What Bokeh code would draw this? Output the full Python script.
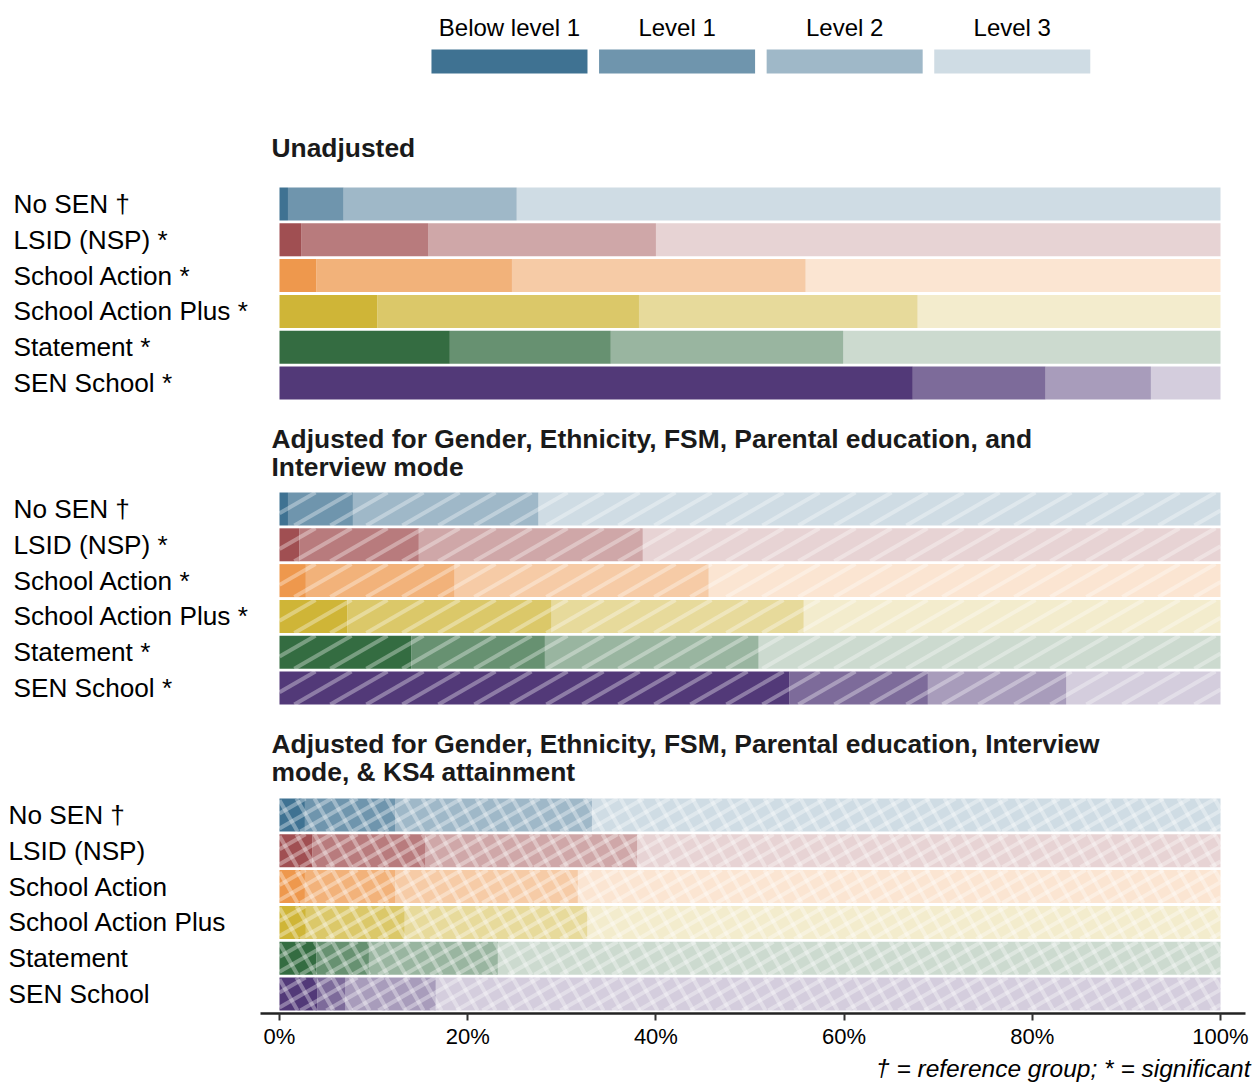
import numpy as np
from bokeh.plotting import figure
from bokeh.models import Range1d, FixedTicker, PrintfTickFormatter, ColumnDataSource, Title
from bokeh.core.properties import value
from bokeh.embed import file_html
from bokeh.resources import INLINE

# ---- data -------------------------------------------------------------
levels = ["Below level 1", "Level 1", "Level 2", "Level 3"]
groups = ["No SEN", "LSID (NSP)", "School Action", "School Action Plus",
          "Statement", "SEN School"]
group_colors = ["#3f7292", "#a04f52", "#ee984d", "#cfb537", "#346c41", "#523978"]
level_alphas = [1.0, 0.75, 0.5, 0.25]

# share of each group at each level (%), unadjusted
unadj_below = [0.9, 2.3, 3.9, 10.4, 18.1, 67.3]
unadj_l1 = [5.9, 13.5, 20.8, 27.8, 17.1, 14.1]
unadj_l2 = [18.4, 24.2, 31.2, 29.6, 24.7, 11.2]
unadj_l3 = [74.8, 60.0, 44.1, 32.2, 40.1, 7.4]
unadj_marks = ["†", "*", "*", "*", "*", "*"]

# adjusted for gender, ethnicity, FSM, parental education, interview mode
adj_below = [0.9, 2.1, 2.8, 7.2, 14.0, 54.2]
adj_l1 = [6.9, 12.7, 15.8, 21.7, 14.2, 14.7]
adj_l2 = [19.7, 23.8, 27.0, 26.8, 22.7, 14.7]
adj_l3 = [72.5, 61.4, 54.4, 44.3, 49.1, 16.4]
adj_marks = ["†", "*", "*", "*", "*", "*"]

# additionally adjusted for KS4 attainment
ks4_below = [2.7, 3.5, 2.7, 2.8, 3.9, 4.0]
ks4_l1 = [9.6, 12.0, 9.6, 10.5, 5.6, 3.0]
ks4_l2 = [20.9, 22.5, 19.4, 19.4, 13.7, 9.6]
ks4_l3 = [66.8, 62.0, 68.3, 67.3, 76.8, 83.4]
ks4_marks = ["†", "", "", "", "", ""]

panel_titles = [
    ["Unadjusted"],
    ["Adjusted for Gender, Ethnicity, FSM, Parental education, and",
     "Interview mode"],
    ["Adjusted for Gender, Ethnicity, FSM, Parental education, Interview",
     "mode, & KS4 attainment"],
]
x_ticks = [0, 20, 40, 60, 80, 100]
footnote = "† = reference group; * = significant"

# ---- layout (y runs downward in pixel-like units) ---------------------
PX = 9.41                      # pixels per percentage point
X0 = -279 / PX                 # left edge of the frame
X1 = (1256 - 279) / PX         # right edge of the frame
FRAME_H = 1013
ROW_PITCH = 35.8
BAR_H = 33
FONT = "Liberation Sans"

# hatch families: (slope dy/dx in screen pixels, horizontal spacing in pixels)
SHALLOW_UP = (-np.tan(np.radians(30)), 36)
SHALLOW_UP_FINE = (-np.tan(np.radians(30)), 26)
STEEP_DOWN = (np.tan(np.radians(60)), 18)

panels = [
    dict(shares=[unadj_below, unadj_l1, unadj_l2, unadj_l3], marks=unadj_marks,
         first_row=203.5, title_y=[147], label_x=(13 - 279) / PX, hatch=[]),
    dict(shares=[adj_below, adj_l1, adj_l2, adj_l3], marks=adj_marks,
         first_row=508.5, title_y=[438, 466], label_x=(13 - 279) / PX,
         hatch=[SHALLOW_UP]),
    dict(shares=[ks4_below, ks4_l1, ks4_l2, ks4_l3], marks=ks4_marks,
         first_row=814.5, title_y=[743, 771], label_x=(8 - 279) / PX,
         hatch=[SHALLOW_UP_FINE, STEEP_DOWN]),
]


def hatch_lines(row_y, row_left, row_right, slope, spacing):
    """Parallel hatch strokes clipped to one bar row (x in %, y in pixels)."""
    L, R = 279 + row_left * PX, 279 + row_right * PX
    run = BAR_H / abs(slope)
    y_start = row_y + BAR_H / 2 if slope < 0 else row_y - BAR_H / 2
    x0s, y0s, x1s, y1s = [], [], [], []
    xa = L - run
    while xa < R:
        t0, t1 = max(0.0, L - xa), min(run, R - xa)
        if t1 > t0:
            x0s.append((xa + t0 - 279) / PX)
            x1s.append((xa + t1 - 279) / PX)
            y0s.append(y_start + slope * t0)
            y1s.append(y_start + slope * t1)
        xa += spacing
    return x0s, y0s, x1s, y1s


p = figure(frame_width=1256, frame_height=FRAME_H,
           x_range=Range1d(X0, X1), y_range=Range1d(FRAME_H, 0),
           output_backend="svg", toolbar_location=None,
           y_axis_location=None, min_border=0,
           background_fill_color="white", border_fill_color="white")
p.outline_line_color = None
p.xgrid.visible = False
p.ygrid.visible = False

for k, panel in enumerate(panels):
    shares = np.array(panel["shares"], dtype=float)     # level x group
    cum = np.cumsum(shares, axis=0)
    rows_y = panel["first_row"] + ROW_PITCH * np.arange(len(groups))
    src = dict(y=[], left=[], right=[], color=[], alpha=[])
    for g in range(len(groups)):
        for lv in range(len(levels)):
            src["y"].append(rows_y[g])
            src["left"].append(cum[lv - 1, g] if lv > 0 else 0.0)
            src["right"].append(cum[lv, g])
            src["color"].append(group_colors[g])
            src["alpha"].append(level_alphas[lv])
    p.hbar(y="y", left="left", right="right", height=BAR_H,
           fill_color="color", fill_alpha="alpha", line_color=None,
           source=ColumnDataSource(src))

    # white hatch strokes over the adjusted panels
    hx0, hy0, hx1, hy1 = [], [], [], []
    for g in range(len(groups)):
        for slope, spacing in panel["hatch"]:
            a, b, c, d = hatch_lines(rows_y[g], 0.0, cum[-1, g], slope, spacing)
            hx0 += a; hy0 += b; hx1 += c; hy1 += d
    if hx0:
        p.segment(x0=hx0, y0=hy0, x1=hx1, y1=hy1, line_color="white",
                  line_alpha=0.34, line_width=4)

    labels = [f"{g} {m}".strip() for g, m in zip(groups, panel["marks"])]
    p.text(x=[panel["label_x"]] * len(groups), y=rows_y, text=labels,
           text_font=value(FONT), text_font_size=value("26.2px"),
           text_color="black", text_align="left", text_baseline="middle")

    p.text(x=[-0.85] * len(panel_titles[k]), y=panel["title_y"], text=panel_titles[k],
           text_font=value(FONT), text_font_size=value("26.4px"), text_font_style="bold",
           text_color="#1a1a1a", text_align="left", text_baseline="middle")

# legend: four swatches of the first group's colour at each level's shade
leg_x = 24.44 + 17.81 * np.arange(len(levels))
p.rect(x=leg_x, y=61, width=16.58, height=24, fill_color=group_colors[0],
       fill_alpha=level_alphas, line_color=None)
p.text(x=leg_x, y=[27] * len(levels), text=levels,
       text_font=value(FONT), text_font_size=value("24px"), text_color="black",
       text_align="center", text_baseline="middle")

ax = p.xaxis[0]
ax.ticker = FixedTicker(ticks=x_ticks)
ax.formatter = PrintfTickFormatter(format="%d%%")
ax.bounds = (-2.0, 102.65)
ax.axis_line_width = 2.5
ax.axis_line_color = "#222222"
ax.major_tick_in = 0
ax.major_tick_out = 7
ax.major_tick_line_width = 2
ax.major_tick_line_color = "#333333"
ax.minor_tick_line_color = None
ax.major_label_text_font = FONT
ax.major_label_text_font_size = "22px"
ax.major_label_text_color = "black"
ax.major_label_standoff = 3

p.add_layout(Title(text=footnote, align="right", text_font=FONT,
                   text_font_size="24.5px", text_font_style="italic",
                   text_color="black", offset=6, standoff=2), "below")

open("out.html", "w").write(file_html(p, INLINE))
